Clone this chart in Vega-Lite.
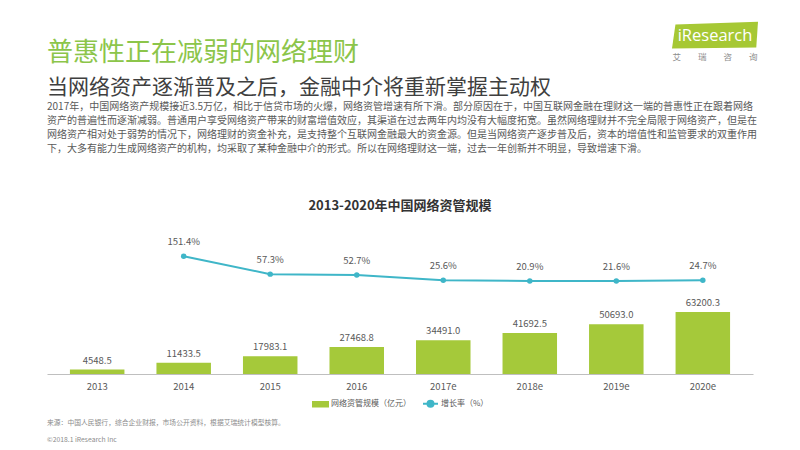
{
  "$schema": "https://vega.github.io/schema/vega-lite/v6.json",
  "background": "white",
  "padding": {"left": 47, "top": 21, "right": 10, "bottom": 5},
  "config": {
    "font": "Noto Sans CJK SC",
    "view": {"stroke": null},
    "concat": {"spacing": 0}
  },
  "datasets": {
    "main": [
      {"year": "2013", "scale": 4548.5, "growth": null},
      {"year": "2014", "scale": 11433.5, "growth": 1.514},
      {"year": "2015", "scale": 17983.1, "growth": 0.573},
      {"year": "2016", "scale": 27468.8, "growth": 0.527},
      {"year": "2017e", "scale": 34491.0, "growth": 0.256},
      {"year": "2018e", "scale": 41692.5, "growth": 0.209},
      {"year": "2019e", "scale": 50693.0, "growth": 0.216},
      {"year": "2020e", "scale": 63200.3, "growth": 0.247}
    ],
    "logo": [{"brand": "iResearch"}]
  },
  "title": {
    "text": "来源：中国人民银行，综合企业财报，市场公开资料，根据艾瑞统计模型核算。",
    "subtitle": "©2018.1 iResearch Inc",
    "orient": "bottom",
    "anchor": "start",
    "align": "left",
    "offset": 9,
    "fontSize": 6.8,
    "fontWeight": "normal",
    "color": "#8c8c8c",
    "subtitleFontSize": 6.8,
    "subtitleColor": "#8c8c8c",
    "subtitlePadding": 10
  },
  "spacing": 4,
  "resolve": {"scale": {"color": "independent"}, "legend": {"color": "independent"}},
  "vconcat": [
    {
      "hconcat": [
        {
          "title": {
            "text": "普惠性正在减弱的网络理财",
            "subtitle": "当网络资产逐渐普及之后，金融中介将重新掌握主动权",
            "orient": "bottom",
            "anchor": "start",
            "align": "left",
            "offset": 2,
            "fontSize": 26,
            "fontWeight": "normal",
            "color": "#8cc54a",
            "subtitleFontSize": 21,
            "subtitleColor": "#3f3f3f",
            "subtitlePadding": 11
          },
          "width": 625,
          "height": 14,
          "data": {"values": []},
          "mark": "point"
        },
        {
          "title": {
            "text": "艾　　瑞　　咨　　询",
            "orient": "bottom",
            "anchor": "middle",
            "offset": 5,
            "fontSize": 8.5,
            "fontWeight": "normal",
            "color": "#8c8c8c"
          },
          "width": 86,
          "height": 24,
          "data": {"name": "logo"},
          "layer": [
            {
              "mark": {
                "type": "point",
                "shape": "M-0.92,-0.27L1,-0.33L0.96,0.27L-1,0.29Z",
                "size": 7396,
                "filled": true,
                "color": "#a6c834",
                "opacity": 1,
                "strokeWidth": 0
              },
              "encoding": {}
            },
            {
              "mark": {"type": "text", "font": "Open Sans", "fontSize": 16.5, "color": "white", "align": "center", "baseline": "middle"},
              "encoding": {"text": {"field": "brand", "type": "nominal"}}
            }
          ]
        }
      ]
    },
    {
      "title": {
        "text": [
          "2017年，中国网络资产规模接近3.5万亿，相比于信贷市场的火爆，网络资管增速有所下滑。部分原因在于，中国互联网金融在理财这一端的普惠性正在跟着网络",
          "资产的普遍性而逐渐减弱。普通用户享受网络资产带来的财富增值效应，其渠道在过去两年内均没有大幅度拓宽。虽然网络理财并不完全局限于网络资产，但是在",
          "网络资产相对处于弱势的情况下，网络理财的资金补充，是支持整个互联网金融最大的资金源。但是当网络资产逐步普及后，资本的增值性和监管要求的双重作用",
          "下，大多有能力生成网络资产的机构，均采取了某种金融中介的形式。所以在网络理财这一端，过去一年创新并不明显，导致增速下滑。"
        ],
        "anchor": "start",
        "align": "left",
        "offset": 46,
        "fontSize": 10,
        "lineHeight": 14,
        "fontWeight": "normal",
        "color": "#595959"
      },
      "resolve": {"scale": {"color": "independent"}, "legend": {"color": "independent"}},
      "vconcat": [
        {
          "title": {
            "text": "2013-2020年中国网络资管规模",
            "anchor": "middle",
            "fontSize": 13,
            "fontWeight": "bold",
            "color": "#333333",
            "offset": 11
          },
          "width": 706,
          "height": 150,
          "data": {"name": "main"},
          "encoding": {
            "x": {
              "field": "year",
              "type": "ordinal",
              "sort": null,
              "scale": {"paddingInner": 0.37, "paddingOuter": 0.265},
              "axis": {
                "title": null,
                "labelAngle": 0,
                "ticks": false,
                "domainColor": "#bfbfbf",
                "domainWidth": 1,
                "labelColor": "#595959",
                "labelFontSize": 9.5,
                "labelPadding": 7
              }
            }
          },
          "layer": [
            {
              "encoding": {
                "y": {
                  "field": "scale",
                  "type": "quantitative",
                  "scale": {"domain": [0, 152900], "nice": false},
                  "axis": null
                }
              },
              "layer": [
                {
                  "mark": {"type": "bar", "color": "#a5c93a"},
                  "encoding": {
                    "color": {
                      "datum": "网络资管规模（亿元）",
                      "type": "nominal",
                      "scale": {"domain": ["网络资管规模（亿元）", "增长率（%）"], "range": ["#a5c93a", "#3fb6c8"]},
                      "legend": {
                        "title": null,
                        "orient": "none",
                        "legendX": 265,
                        "legendY": 171,
                        "direction": "horizontal",
                        "labelFontSize": 8,
                        "labelColor": "#595959",
                        "symbolSize": 225,
                        "symbolStrokeWidth": 2,
                        "columnPadding": 8,
                        "labelOffset": 2,
                        "encode": {
                          "symbols": {
                            "update": {
                              "shape": {"signal": "datum.value === '增长率（%）' ? 'M-1,0H1M0.4,0A0.4,0.4,0,1,1,-0.4,0A0.4,0.4,0,1,1,0.4,0' : 'M-1,-0.3H1V0.3H-1Z'"},
                              "fill": {"scale": "color", "field": "value"},
                              "stroke": {"scale": "color", "field": "value"},
                              "strokeWidth": {"value": 2},
                              "opacity": {"value": 1}
                            }
                          }
                        }
                      }
                    }
                  }
                },
                {
                  "mark": {"type": "text", "baseline": "bottom", "dy": -4, "fontSize": 9.5, "color": "#595959"},
                  "encoding": {
                    "text": {"field": "scale", "type": "quantitative", "format": ".1f"}
                  }
                }
              ]
            },
            {
              "transform": [{"filter": "datum.growth != null"}],
              "encoding": {
                "y": {
                  "field": "growth",
                  "type": "quantitative",
                  "scale": {"domain": [-4.68, 3.21], "nice": false, "zero": false},
                  "axis": null
                }
              },
              "layer": [
                {
                  "mark": {"type": "line", "strokeWidth": 2, "point": {"filled": true, "size": 30, "color": "#3fb6c8"}},
                  "encoding": {
                    "color": {"datum": "增长率（%）", "type": "nominal"}
                  }
                },
                {
                  "mark": {"type": "text", "baseline": "bottom", "dy": -9, "fontSize": 9.5, "color": "#595959"},
                  "encoding": {
                    "text": {"field": "growth", "type": "quantitative", "format": ".1%"}
                  }
                }
              ]
            }
          ],
          "resolve": {"scale": {"y": "independent"}}
        }
      ]
    }
  ]
}
